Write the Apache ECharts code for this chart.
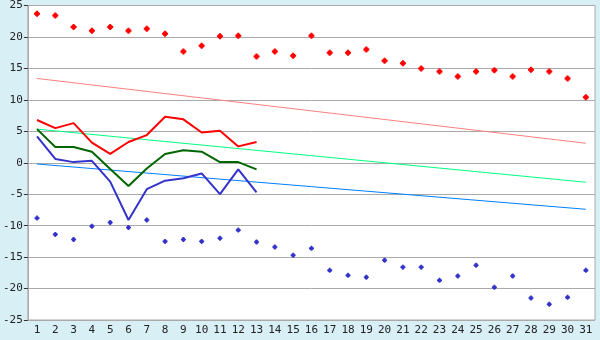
<!DOCTYPE html>
<html><head><meta charset="utf-8">
<script src="https://cdn.jsdelivr.net/npm/echarts@6/dist/echarts.min.js"></script>
<style>html,body{margin:0;padding:0;background:#d9eff6}#c{width:600px;height:340px}</style>
</head><body><div id="c"></div>
<script>
var days = ['1','2','3','4','5','6','7','8','9','10','11','12','13','14','15','16','17','18','19','20','21','22','23','24','25','26','27','28','29','30','31'];
var yTicks = [-25,-20,-15,-10,-5,0,5,10,15,20,25];
var maxPoints = [23.7,23.4,21.6,21.0,21.6,21.0,21.3,20.5,17.7,18.6,20.1,20.2,16.9,17.7,17.0,20.2,17.5,17.5,18.0,16.2,15.8,15.0,14.5,13.7,14.5,14.7,13.7,14.8,14.5,13.4,10.4];
var minPoints = [-8.8,-11.4,-12.2,-10.1,-9.5,-10.3,-9.1,-12.5,-12.2,-12.5,-12.0,-10.7,-12.6,-13.4,-14.7,-13.6,-17.1,-17.9,-18.2,-15.5,-16.6,-16.6,-18.7,-18.0,-16.3,-19.8,-18.0,-21.5,-22.5,-21.4,-17.1];
var maxLine = [6.8,5.5,6.3,3.2,1.4,3.3,4.4,7.3,6.9,4.8,5.1,2.6,3.3];
var meanLine = [5.35,2.5,2.5,1.75,-1.0,-3.7,-0.9,1.4,2.0,1.75,0.1,0.1,-1.05];
var minLine = [4.2,0.6,0.1,0.3,-3.0,-9.1,-4.2,-2.85,-2.45,-1.7,-5.0,-1.05,-4.7];
var maxTrend = [13.4,3.1];
var meanTrend = [5.35,-3.1];
var minTrend = [-0.2,-7.4];

function ends(pair){var a=days.map(function(){return null;});a[0]=pair[0];a[days.length-1]=pair[1];return a;}
var plus='path://M2,0H4V1H5V2H6V4H5V5H4V6H2V5H1V4H0V2H1V1H2Z';
var chart = echarts.init(document.getElementById('c'));
var font = 'DejaVu Sans Mono';
chart.setOption({
  backgroundColor:'#d9eff6',
  animation:false,
  grid:{left:27,right:5,top:5,bottom:20,show:true,backgroundColor:'#ffffff',borderColor:'#aaaaaa',borderWidth:1},
  xAxis:{type:'category',data:days,boundaryGap:true,
    axisLine:{lineStyle:{color:'#aaaaaa'}},
    axisTick:{alignWithLabel:true,length:4,lineStyle:{color:'#333'}},
    axisLabel:{color:'#222',fontFamily:font,fontSize:11,margin:5,interval:0}},
  yAxis:{type:'value',min:yTicks[0],max:yTicks[yTicks.length-1],interval:5,
    axisLine:{show:true,lineStyle:{color:'#aaaaaa'}},
    axisTick:{show:true,length:4,lineStyle:{color:'#333'}},
    splitLine:{lineStyle:{color:'#aaaaaa'}},
    axisLabel:{color:'#222',fontFamily:font,fontSize:11,margin:5}},
  series:[
    {type:'line',data:ends(maxTrend),connectNulls:true,symbol:'none',lineStyle:{color:'#ff8080',width:1}},
    {type:'line',data:ends(meanTrend),connectNulls:true,symbol:'none',lineStyle:{color:'#00ff80',width:1}},
    {type:'line',data:ends(minTrend),connectNulls:true,symbol:'none',lineStyle:{color:'#0080ff',width:1}},
    {type:'line',data:maxLine,symbol:'none',lineStyle:{color:'#ff0000',width:2}},
    {type:'line',data:meanLine,symbol:'none',lineStyle:{color:'#006600',width:2}},
    {type:'line',data:minLine,symbol:'none',lineStyle:{color:'#3333cc',width:2}},
    {type:'scatter',data:maxPoints,symbol:plus,symbolSize:6,itemStyle:{color:'#ff0000',opacity:1}},
    {type:'scatter',data:minPoints,symbol:plus,symbolSize:5,itemStyle:{color:'#3333cc',opacity:1}}
  ]
});
</script></body></html>
